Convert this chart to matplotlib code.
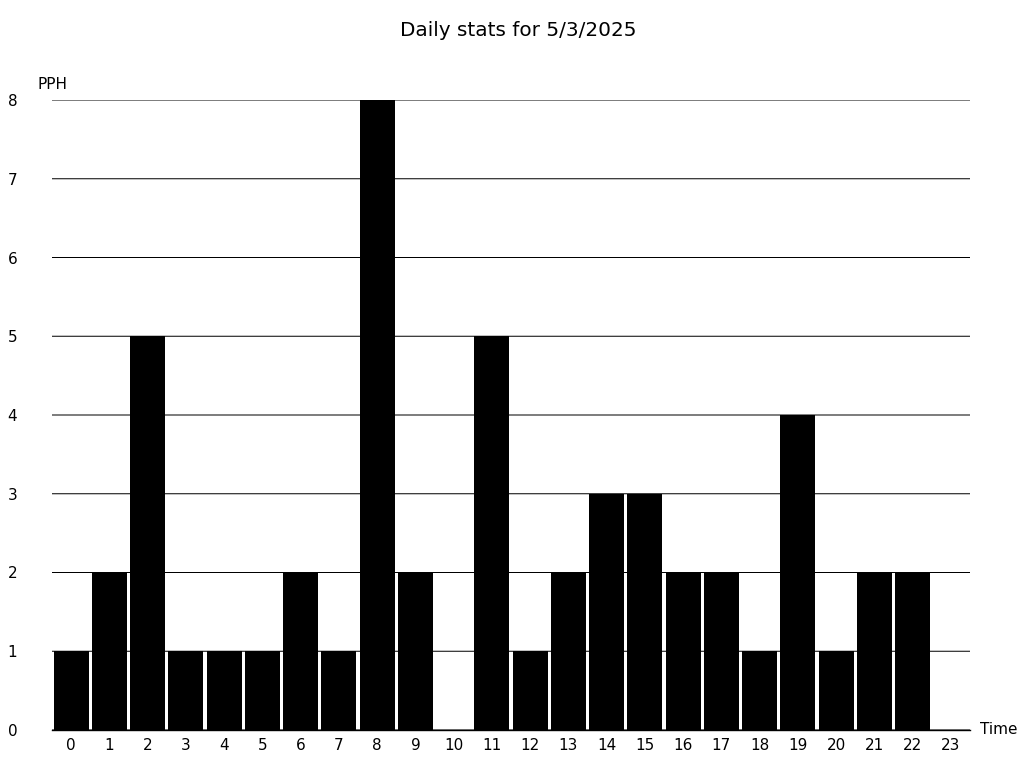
import matplotlib.pyplot as plt
import numpy as np

# valores por hora
horas = [str(h) for h in range(24)]
pph = [1, 2, 5, 1, 1, 1, 2, 1, 8, 2, 0, 5, 1, 2, 3, 3, 2, 2, 1, 4, 1, 2, 2, 0]
y_ticks = [0, 1, 2, 3, 4, 5, 6, 7, 8]

fig = plt.figure(figsize=(10.24, 7.68), dpi=100)
ax = fig.add_axes([52 / 1024, 38 / 768, 918 / 1024, 630 / 768])

x = np.arange(len(horas))
ax.bar(x, pph, width=0.92, color='black', zorder=3)

ax.set_xlim(-0.5, len(horas) - 0.5)
ax.set_ylim(0, 8)
ax.set_xticks(x)
ax.set_xticklabels(horas)
ax.set_yticks(y_ticks)
ax.tick_params(axis='both', length=0, labelsize=11)
ax.tick_params(axis='y', pad=25)
ax.tick_params(axis='x', pad=6)

# linhas de grade finas, sem ajuste ao pixel
ax.grid(axis='y', color='black', linewidth=0.72, snap=False, zorder=0)
for s in ['top', 'right', 'left']:
    ax.spines[s].set_visible(False)
ax.spines['bottom'].set_color('black')
ax.spines['bottom'].set_linewidth(1)

ax.text(-0.016, 1.013, 'PPH', transform=ax.transAxes, fontsize=11, va='bottom', ha='left')
ax.text(1.011, 0.0, 'Time', transform=ax.transAxes, fontsize=11, va='center', ha='left')

fig.suptitle('Daily stats for 5/3/2025', x=518 / 1024, y=1 - 31 / 768, va='center', fontsize=14.4)

fig.savefig('out.png', dpi=100)
